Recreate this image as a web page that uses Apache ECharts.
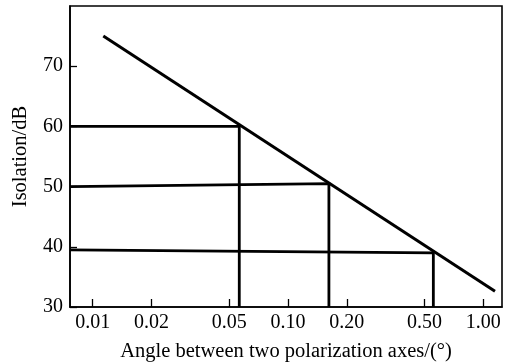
<!DOCTYPE html>
<html>
<head>
<meta charset="utf-8">
<script src="https://cdn.jsdelivr.net/npm/echarts@6/dist/echarts.min.js"></script>
<style>
  html, body { margin: 0; padding: 0; background: #fff; }
  #chart { width: 509px; height: 363px; }
</style>
</head>
<body>
<div id="chart"></div>
<script>
// Angle range shown on the log axis (degrees) and isolation range (dB)
const angleMin = 0.00765;
const angleMax = 1.247;
const isoMin = 30;
const isoMax = 80;

// Tick positions
const angleTicks = [0.01, 0.02, 0.05, 0.10, 0.20, 0.50, 1.00];
const isoTicks = [30, 40, 50, 60, 70];

// Isolation versus misalignment angle
const isolationCurve = [[0.01133, 75], [1.148, 32.6]];

// Read-off guides: horizontal from the isolation level, then down to the angle axis
const guide60 = [[angleMin, 60], [0.0563, 60], [0.0563, isoMin]];
const guide50 = [[angleMin, 50], [0.162, 50.5], [0.162, isoMin]];
const guide40 = [[angleMin, 39.5], [0.555, 39], [0.555, isoMin]];

const font = '"Liberation Serif", "DejaVu Serif", serif';
const ink = '#000';

function lineSeries(data, width) {
  return {
    type: 'line',
    data: data,
    symbol: 'none',
    silent: true,
    clip: false,
    lineStyle: { color: ink, width: width, join: 'miter', cap: 'butt' }
  };
}

const chart = echarts.init(document.getElementById('chart'), null, { renderer: 'canvas' });
chart.setOption({
  animation: false,
  backgroundColor: '#fff',
  grid: {
    left: 70, right: 7, top: 6, bottom: 56,
    containLabel: false,
    outerBoundsMode: 'none',
    show: true, borderColor: ink, borderWidth: 1.6, backgroundColor: 'transparent'
  },
  xAxis: {
    type: 'log',
    logBase: 10,
    min: angleMin,
    max: angleMax,
    name: 'Angle between two polarization axes/(°)',
    nameLocation: 'middle',
    nameGap: 34,
    nameTextStyle: { fontFamily: font, fontSize: 20.5, color: ink },
    axisLine: { show: true, lineStyle: { color: ink, width: 1.6 } },
    axisTick: { show: true, inside: true, length: 8, customValues: angleTicks, lineStyle: { color: ink, width: 1.3 } },
    axisLabel: {
      customValues: angleTicks,
      margin: 6,
      fontFamily: font, fontSize: 20, color: ink,
      formatter: v => Number(v).toFixed(2)
    },
    splitLine: { show: false },
    minorTick: { show: false }
  },
  yAxis: {
    type: 'value',
    min: isoMin,
    max: isoMax,
    interval: 10,
    name: 'Isolation/dB',
    nameLocation: 'middle',
    nameGap: 39,
    nameTextStyle: { fontFamily: font, fontSize: 20.5, color: ink },
    axisLine: { show: true, lineStyle: { color: ink, width: 1.6 } },
    axisTick: { show: true, inside: true, length: 7, customValues: isoTicks, lineStyle: { color: ink, width: 1.3 } },
    axisLabel: {
      customValues: isoTicks,
      margin: 7,
      fontFamily: font, fontSize: 20, color: ink
    },
    splitLine: { show: false }
  },
  series: [
    lineSeries(isolationCurve, 3),
    lineSeries(guide60, 2.8),
    lineSeries(guide50, 2.8),
    lineSeries(guide40, 2.8)
  ]
});
</script>
</body>
</html>
